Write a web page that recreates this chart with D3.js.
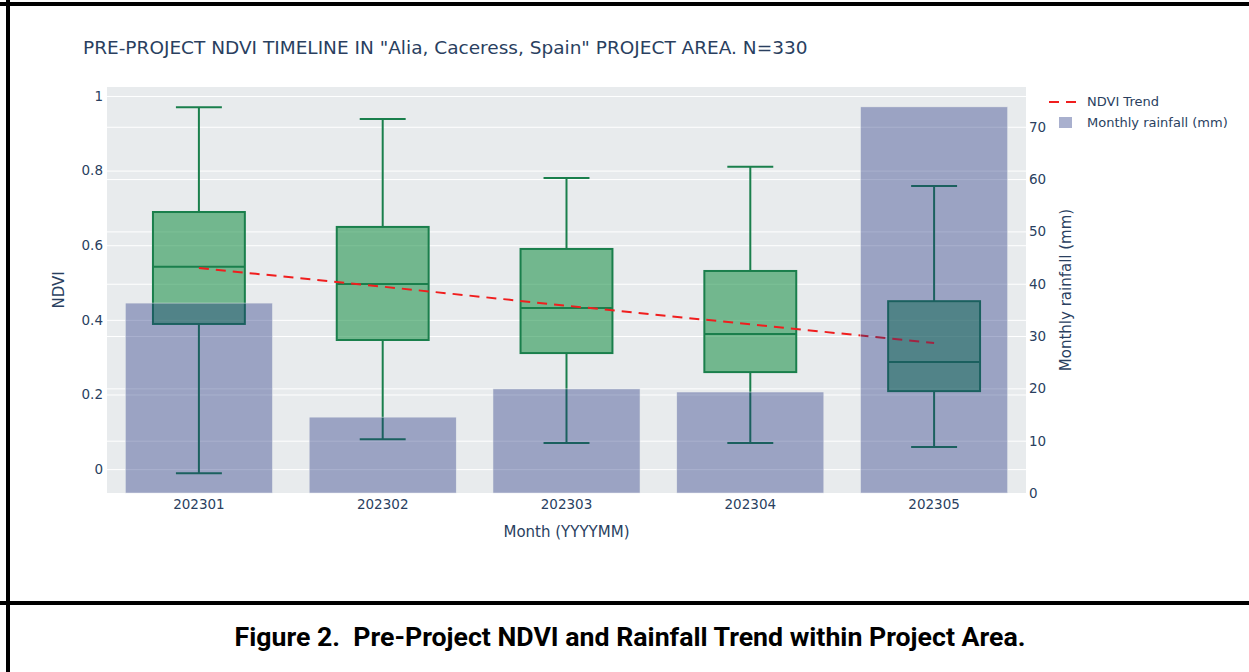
<!DOCTYPE html>
<html>
<head>
<meta charset="utf-8">
<title>NDVI timeline</title>
<script src="https://d3js.org/d3.v7.min.js"></script>
<style>
  body { margin: 0; background: #fff; }
  text { font-family: "DejaVu Sans", Verdana, sans-serif; fill: #2a3f5f; }
  .caption { font-family: Roboto, "Noto Sans", sans-serif; font-weight: bold; fill: #000; }
</style>
</head>
<body>
<div id="chart"></div>
<script>
/* global d3 */

// data
const months = ['202301', '202302', '202303', '202304', '202305'];
const ndviMin = [-0.011, 0.080, 0.070, 0.070, 0.059];
const ndviQ1 = [0.389, 0.346, 0.311, 0.260, 0.209];
const ndviMedian = [0.542, 0.496, 0.432, 0.362, 0.287];
const ndviQ3 = [0.689, 0.649, 0.590, 0.531, 0.450];
const ndviMax = [0.970, 0.938, 0.780, 0.810, 0.759];
const ndviTrend = [0.539, 0.489, 0.438, 0.388, 0.338];
const rainfall = [36.3, 14.5, 19.9, 19.3, 73.8];
const ndviTicks = [0, 0.2, 0.4, 0.6, 0.8, 1];
const rainTicks = [0, 10, 20, 30, 40, 50, 60, 70];

const W = 1249, H = 672;
const plot = { left: 107, right: 1026, top: 87, bottom: 493 };

const svg = d3.select('#chart').append('svg')
    .attr('width', W)
    .attr('height', H);

// frame lines
svg.append('rect').attr('x', 0).attr('y', 0).attr('width', W).attr('height', H).attr('fill', '#fff');
svg.append('line').attr('x1', 8).attr('x2', 8).attr('y1', 0).attr('y2', H)
    .attr('stroke', '#000').attr('stroke-width', 4);
svg.append('line').attr('x1', 0).attr('x2', W).attr('y1', 4).attr('y2', 4)
    .attr('stroke', '#000').attr('stroke-width', 4);
svg.append('line').attr('x1', 0).attr('x2', W).attr('y1', 603).attr('y2', 603)
    .attr('stroke', '#000').attr('stroke-width', 4);

const x = d3.scaleBand()
  .domain(months)
  .range([plot.left, plot.right])
  .padding(0);
const bw = x.bandwidth();
const cx = m => x(m) + bw / 2;

const y = d3.scaleLinear().domain([-0.064, 1.024]).range([plot.bottom, plot.top]);
const y2 = d3.scaleLinear().domain([0, 77.6]).range([plot.bottom, plot.top]);

// background + grid
svg.append('rect')
    .attr('x', plot.left).attr('y', plot.top)
    .attr('width', plot.right - plot.left).attr('height', plot.bottom - plot.top)
    .attr('fill', '#e8ebed');

svg.append('g')
    .attr('transform', `translate(${plot.left},0)`)
  .call(d3.axisLeft(y).tickValues(ndviTicks).tickSize(-(plot.right - plot.left)).tickFormat(''))
  .call(g => g.select('.domain').remove())
  .selectAll('line').attr('stroke', '#fff').attr('stroke-width', 1);

svg.append('g')
    .attr('transform', `translate(${plot.left},0)`)
  .call(d3.axisLeft(y2).tickValues(rainTicks.filter(d => d > 0)).tickSize(-(plot.right - plot.left)).tickFormat(''))
  .call(g => g.select('.domain').remove())
  .selectAll('line').attr('stroke', '#fff').attr('stroke-width', 1);

// box plots
const boxes = months.map((m, i) => ({
  m, min: ndviMin[i], q1: ndviQ1[i], med: ndviMedian[i], q3: ndviQ3[i], max: ndviMax[i]
}));
const boxColor = '#1a7f4c';
const bg = svg.append('g').attr('stroke', boxColor).attr('stroke-width', 2);
boxes.forEach(d => {
  const c = cx(d.m);
  bg.append('line').attr('x1', c).attr('x2', c).attr('y1', y(d.max)).attr('y2', y(d.q3));
  bg.append('line').attr('x1', c).attr('x2', c).attr('y1', y(d.q1)).attr('y2', y(d.min));
  bg.append('line').attr('x1', c - bw * 0.125).attr('x2', c + bw * 0.125).attr('y1', y(d.max)).attr('y2', y(d.max));
  bg.append('line').attr('x1', c - bw * 0.125).attr('x2', c + bw * 0.125).attr('y1', y(d.min)).attr('y2', y(d.min));
  bg.append('rect')
      .attr('x', c - bw * 0.25).attr('width', bw * 0.5)
      .attr('y', y(d.q3)).attr('height', y(d.q1) - y(d.q3))
      .attr('fill', 'rgba(16,140,64,0.55)');
  bg.append('line').attr('x1', c - bw * 0.25).attr('x2', c + bw * 0.25).attr('y1', y(d.med)).attr('y2', y(d.med));
});

// trend line
const line = d3.line().x((d, i) => cx(months[i])).y(d => y(d));
svg.append('path')
    .datum(ndviTrend)
    .attr('d', line)
    .attr('fill', 'none')
    .attr('stroke', '#f01e1e')
    .attr('stroke-width', 2)
    .attr('stroke-dasharray', '10,7');

// rainfall bars (drawn on top, secondary axis)
svg.append('g').selectAll('rect')
  .data(months)
  .join('rect')
    .attr('x', m => x(m) + bw * 0.1)
    .attr('width', bw * 0.8)
    .attr('y', (m, i) => y2(rainfall[i]))
    .attr('height', (m, i) => plot.bottom - y2(rainfall[i]))
    .attr('fill', 'rgba(28,48,125,0.38)')
    .attr('stroke', '#e8ebed')
    .attr('stroke-width', 0.5);

// axes labels
const yAxis = svg.append('g')
    .attr('transform', `translate(${plot.left},0)`)
  .call(d3.axisLeft(y).tickValues(ndviTicks).tickSize(0).tickPadding(4).tickFormat(d => d3.format('')(d)));
yAxis.select('.domain').remove();
yAxis.selectAll('text').style('font-size', '13.5px').attr('fill', '#2a3f5f');

const y2Axis = svg.append('g')
    .attr('transform', `translate(${plot.right},0)`)
  .call(d3.axisRight(y2).tickValues(rainTicks).tickSize(0).tickPadding(3));
y2Axis.select('.domain').remove();
y2Axis.selectAll('text').style('font-size', '13.5px').attr('fill', '#2a3f5f');

const xAxis = svg.append('g')
    .attr('transform', `translate(0,${plot.bottom})`)
  .call(d3.axisBottom(x).tickSize(0).tickPadding(6));
xAxis.select('.domain').remove();
xAxis.selectAll('text').style('font-size', '13.5px').attr('fill', '#2a3f5f');

// titles
svg.append('text')
    .attr('x', 83).attr('y', 54)
    .style('font-size', '18.5px')
    .text('PRE-PROJECT NDVI TIMELINE IN "Alia, Caceress, Spain" PROJECT AREA. N=330');

svg.append('text')
    .attr('x', (plot.left + plot.right) / 2).attr('y', 537)
    .attr('text-anchor', 'middle')
    .style('font-size', '15px')
    .text('Month (YYYYMM)');

svg.append('text')
    .attr('transform', `translate(64,${(plot.top + plot.bottom) / 2}) rotate(-90)`)
    .attr('text-anchor', 'middle')
    .style('font-size', '15px')
    .text('NDVI');

svg.append('text')
    .attr('transform', `translate(1071,${(plot.top + plot.bottom) / 2}) rotate(-90)`)
    .attr('text-anchor', 'middle')
    .style('font-size', '15px')
    .text('Monthly rainfall (mm)');

// legend
const lg = svg.append('g');
lg.append('line')
    .attr('x1', 1049).attr('x2', 1079).attr('y1', 102).attr('y2', 102)
    .attr('stroke', '#f01e1e').attr('stroke-width', 2).attr('stroke-dasharray', '10,7');
lg.append('text').attr('x', 1087).attr('y', 106).style('font-size', '13px').text('NDVI Trend');
lg.append('rect')
    .attr('x', 1059).attr('y', 117).attr('width', 13).attr('height', 11)
    .attr('fill', 'rgba(28,48,125,0.38)');
lg.append('text').attr('x', 1087).attr('y', 127).style('font-size', '13px').text('Monthly rainfall (mm)');

// caption
svg.append('text')
    .attr('class', 'caption')
    .attr('x', 630).attr('y', 646)
    .attr('text-anchor', 'middle')
    .attr('xml:space', 'preserve')
    .style('white-space', 'pre')
    .style('font-size', '26.7px')
    .text('Figure 2.  Pre-Project NDVI and Rainfall Trend within Project Area.');
</script>
</body>
</html>
